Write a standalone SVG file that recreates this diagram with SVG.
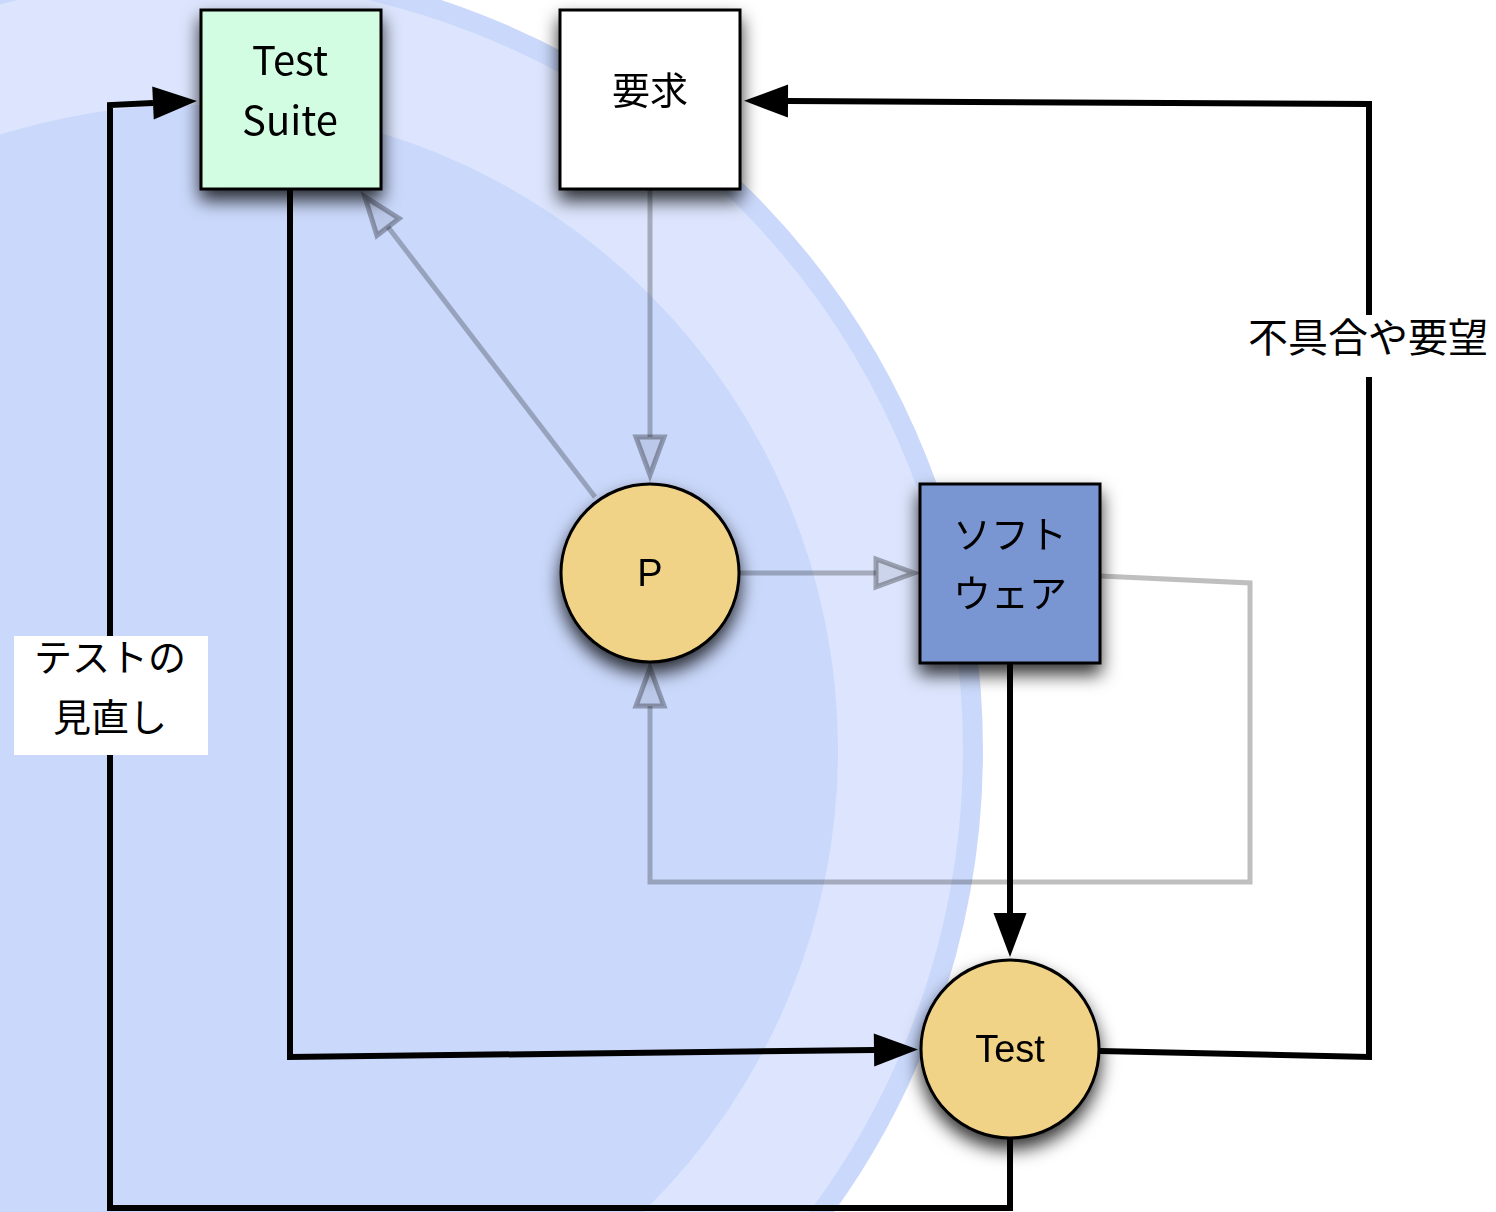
<svg xmlns="http://www.w3.org/2000/svg" width="1496" height="1212" viewBox="0 0 1496 1212">
  <defs>
    <style>
      .box { stroke: #000; stroke-width: 3; }
      .ell { stroke: #000; stroke-width: 3; }
      .jp { font-family: "Noto Sans CJK JP", "Noto Sans", sans-serif; fill: #000; text-anchor: middle; }
      .lat { font-family: "Liberation Sans", Arial, sans-serif; fill: #000; text-anchor: middle; }
      .flow { fill: none; stroke: #000; stroke-width: 6; stroke-linejoin: miter; }
      .ref { fill: none; stroke: #000; stroke-opacity: 0.25; stroke-width: 5; stroke-linejoin: miter; }
    </style>
    <filter id="shadow" x="-30%" y="-30%" width="160%" height="170%">
      <feDropShadow dx="0" dy="10" stdDeviation="9" flood-color="#000" flood-opacity="0.8"/>
    </filter>
    <!-- solid head: line ends at the base, tip extends forward -->
    <marker id="head" markerUnits="userSpaceOnUse" orient="auto" overflow="visible" markerWidth="1" markerHeight="1" refX="0" refY="0">
      <path d="M0,-16.5 L44,0 L0,16.5 z" fill="#000"/>
    </marker>
    <!-- open head for the translucent reference lines -->
    <marker id="open" markerUnits="userSpaceOnUse" orient="auto" overflow="visible" markerWidth="1" markerHeight="1" refX="0" refY="0">
      <path d="M0,-14 L38,0 L0,14 z" fill="#000" fill-opacity="0.07" stroke="#000" stroke-opacity="0.3" stroke-width="5" stroke-linejoin="miter"/>
    </marker>
  </defs>

  <rect width="1496" height="1212" fill="#fff"/>

  <!-- backdrop rings -->
  <g id="backdrop">
    <circle cx="193" cy="750" r="780" fill="#dce5fd" stroke="#cad8fb" stroke-width="20"/>
    <circle cx="193" cy="750" r="645" fill="#cad8fb"/>
  </g>

  <g id="connectors">
    <!-- 要求 to P -->
    <path class="ref" d="M650,190 L650,437" marker-end="url(#open)"/>
    <!-- P to Test Suite -->
    <path class="ref" d="M595,497 L388,227" marker-end="url(#open)"/>
    <!-- P to ソフトウェア -->
    <path class="ref" d="M740,573 L876,573" marker-end="url(#open)"/>
    <!-- ソフトウェア back to P -->
    <path class="ref" d="M1100,576 L1250,583 L1250,882 L650,882 L650,706" marker-end="url(#open)"/>

    <!-- Test Suite to Test -->
    <path class="flow" d="M290,190 L290,1057 L874,1050" marker-end="url(#head)"/>
    <!-- ソフトウェア to Test -->
    <path class="flow" d="M1010,663 L1010,913" marker-end="url(#head)"/>
    <!-- Test to 要求 -->
    <path class="flow" d="M1100,1051 L1369,1057 L1369,104 L788,101" marker-end="url(#head)"/>
    <!-- Test back to Test Suite -->
    <path class="flow" d="M1010,1139 L1010,1208 L110,1208 L110,105 L153,103" marker-end="url(#head)"/>

    <g id="label-review">
      <rect x="14" y="636" width="194" height="119" fill="#fff"/>
      <text class="jp" x="110" y="671" font-size="38">テストの</text>
      <text class="jp" x="110" y="731" font-size="38">見直し</text>
    </g>
    <g id="label-feedback">
      <rect x="1246" y="315" width="246" height="62" fill="#fff"/>
      <text class="jp" x="1368" y="352" font-size="40">不具合や要望</text>
    </g>
  </g>

  <g id="node-testsuite" filter="url(#shadow)">
    <rect class="box" x="201" y="10" width="180" height="179" fill="#d3fde3"/>
    <text class="jp" x="290" y="75" font-size="40">Test</text>
    <text class="jp" x="290" y="135" font-size="40">Suite</text>
  </g>

  <g id="node-requirements" filter="url(#shadow)">
    <rect class="box" x="560" y="10" width="180" height="179" fill="#fff"/>
    <text class="jp" x="650" y="104" font-size="38">要求</text>
  </g>

  <g id="node-p" filter="url(#shadow)">
    <circle class="ell" cx="650" cy="573" r="89" fill="#f1d388"/>
    <text class="lat" x="650" y="586" font-size="38">P</text>
  </g>

  <g id="node-software" filter="url(#shadow)">
    <rect class="box" x="920" y="484" width="180" height="179" fill="#7a96d2"/>
    <text class="jp" x="1010" y="548" font-size="38">ソフト</text>
    <text class="jp" x="1010" y="607" font-size="38">ウェア</text>
  </g>

  <g id="node-test" filter="url(#shadow)">
    <circle class="ell" cx="1010" cy="1049" r="89" fill="#f1d388"/>
    <text class="lat" x="1010" y="1062" font-size="38">Test</text>
  </g>
</svg>
